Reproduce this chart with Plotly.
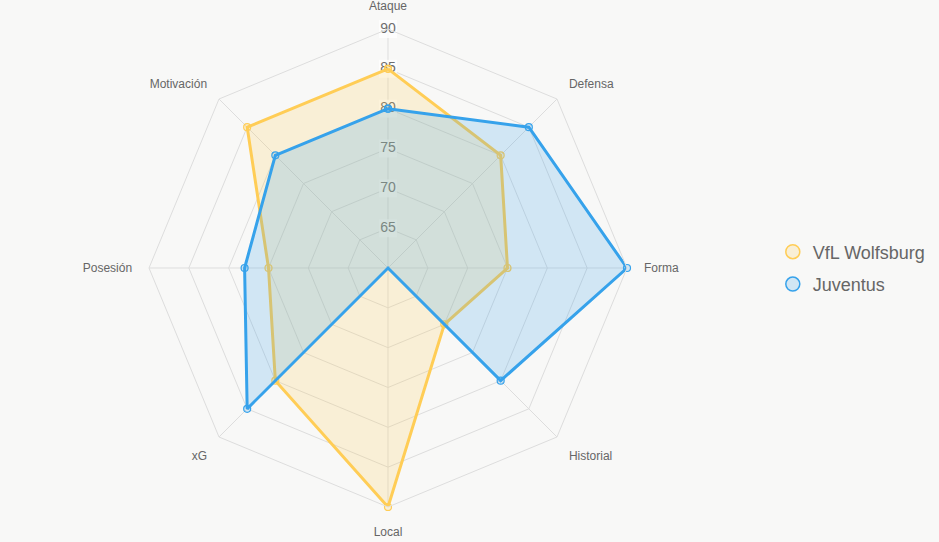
import plotly.graph_objects as go

categories = ["Ataque", "Defensa", "Forma", "Historial", "Local", "xG", "Posesión", "Motivación"]
wolfsburg = [85, 80, 75, 70, 90, 80, 75, 85]
juventus = [80, 85, 90, 80, 60, 85, 78, 80]
tick_vals = [65, 70, 75, 80, 85, 90]
tick_text = ["65", "70", "75", "80", "85", "90"]

YEL = "rgb(255,205,86)"
YEL_F = "rgba(255,205,86,0.2)"
BLU = "rgb(54,162,235)"
BLU_F = "rgba(54,162,235,0.2)"
FONT = "Liberation Sans, Arial, sans-serif"

fig = go.Figure()

def closed(v):
    return v + v[:1]

# radial tick labels with backdrop (drawn under the datasets, like the reference)
fig.add_trace(go.Scatterpolar(
    r=tick_vals, theta=[categories[0]] * len(tick_vals), mode="markers+text",
    text=tick_text, textposition="middle center",
    textfont=dict(size=14, color="#6e6e6e", family=FONT),
    marker=dict(symbol="square", size=18, color="rgba(255,255,255,0.75)", line=dict(width=0)),
    showlegend=False, hoverinfo="skip"))

for name, vals, c, f in [("VfL Wolfsburg", wolfsburg, YEL, YEL_F), ("Juventus", juventus, BLU, BLU_F)]:
    fig.add_trace(go.Scatterpolar(
        r=closed(vals), theta=closed(categories), mode="lines+markers",
        fill="toself", fillcolor=f, line=dict(color=c, width=3),
        marker=dict(size=7, color=f, line=dict(color=c, width=1.2)),
        name=name, showlegend=False, hoverinfo="skip"))

# legend entries
for name, c, f in [("VfL Wolfsburg", YEL, YEL_F), ("Juventus", BLU, BLU_F)]:
    fig.add_trace(go.Scatterpolar(
        r=[None], theta=[None], mode="markers", name=name, legendgroup=name,
        marker=dict(size=14, color=f, line=dict(color=c, width=1.5)),
        showlegend=True))

W, H = 939, 542
fig.update_layout(
    width=W, height=H,
    paper_bgcolor="#f8f8f7", plot_bgcolor="#f8f8f7",
    margin=dict(l=0, r=0, t=29, b=35),
    font=dict(family=FONT, color="#666666"),
    polar=dict(
        domain=dict(x=[149 / W, 627 / W], y=[0, 1]),
        bgcolor="rgba(0,0,0,0)",
        gridshape="linear",
        radialaxis=dict(range=[60, 90], tickvals=tick_vals, showticklabels=False,
                        ticks="", showline=False, gridcolor="#dddddd", gridwidth=1),
        angularaxis=dict(rotation=90, direction="clockwise", showline=True,
                         linecolor="#dddddd", gridcolor="#dddddd",
                         ticks="outside", ticklen=14, tickcolor="rgba(0,0,0,0)",
                         tickfont=dict(size=12, color="#666666", family=FONT)),
    ),
    legend=dict(x=0.823, y=0.5, yanchor="middle", xanchor="left",
                font=dict(size=18, color="#666666"), bgcolor="rgba(0,0,0,0)",
                itemsizing="trace", tracegroupgap=6),
)

fig.write_html("out.html")
